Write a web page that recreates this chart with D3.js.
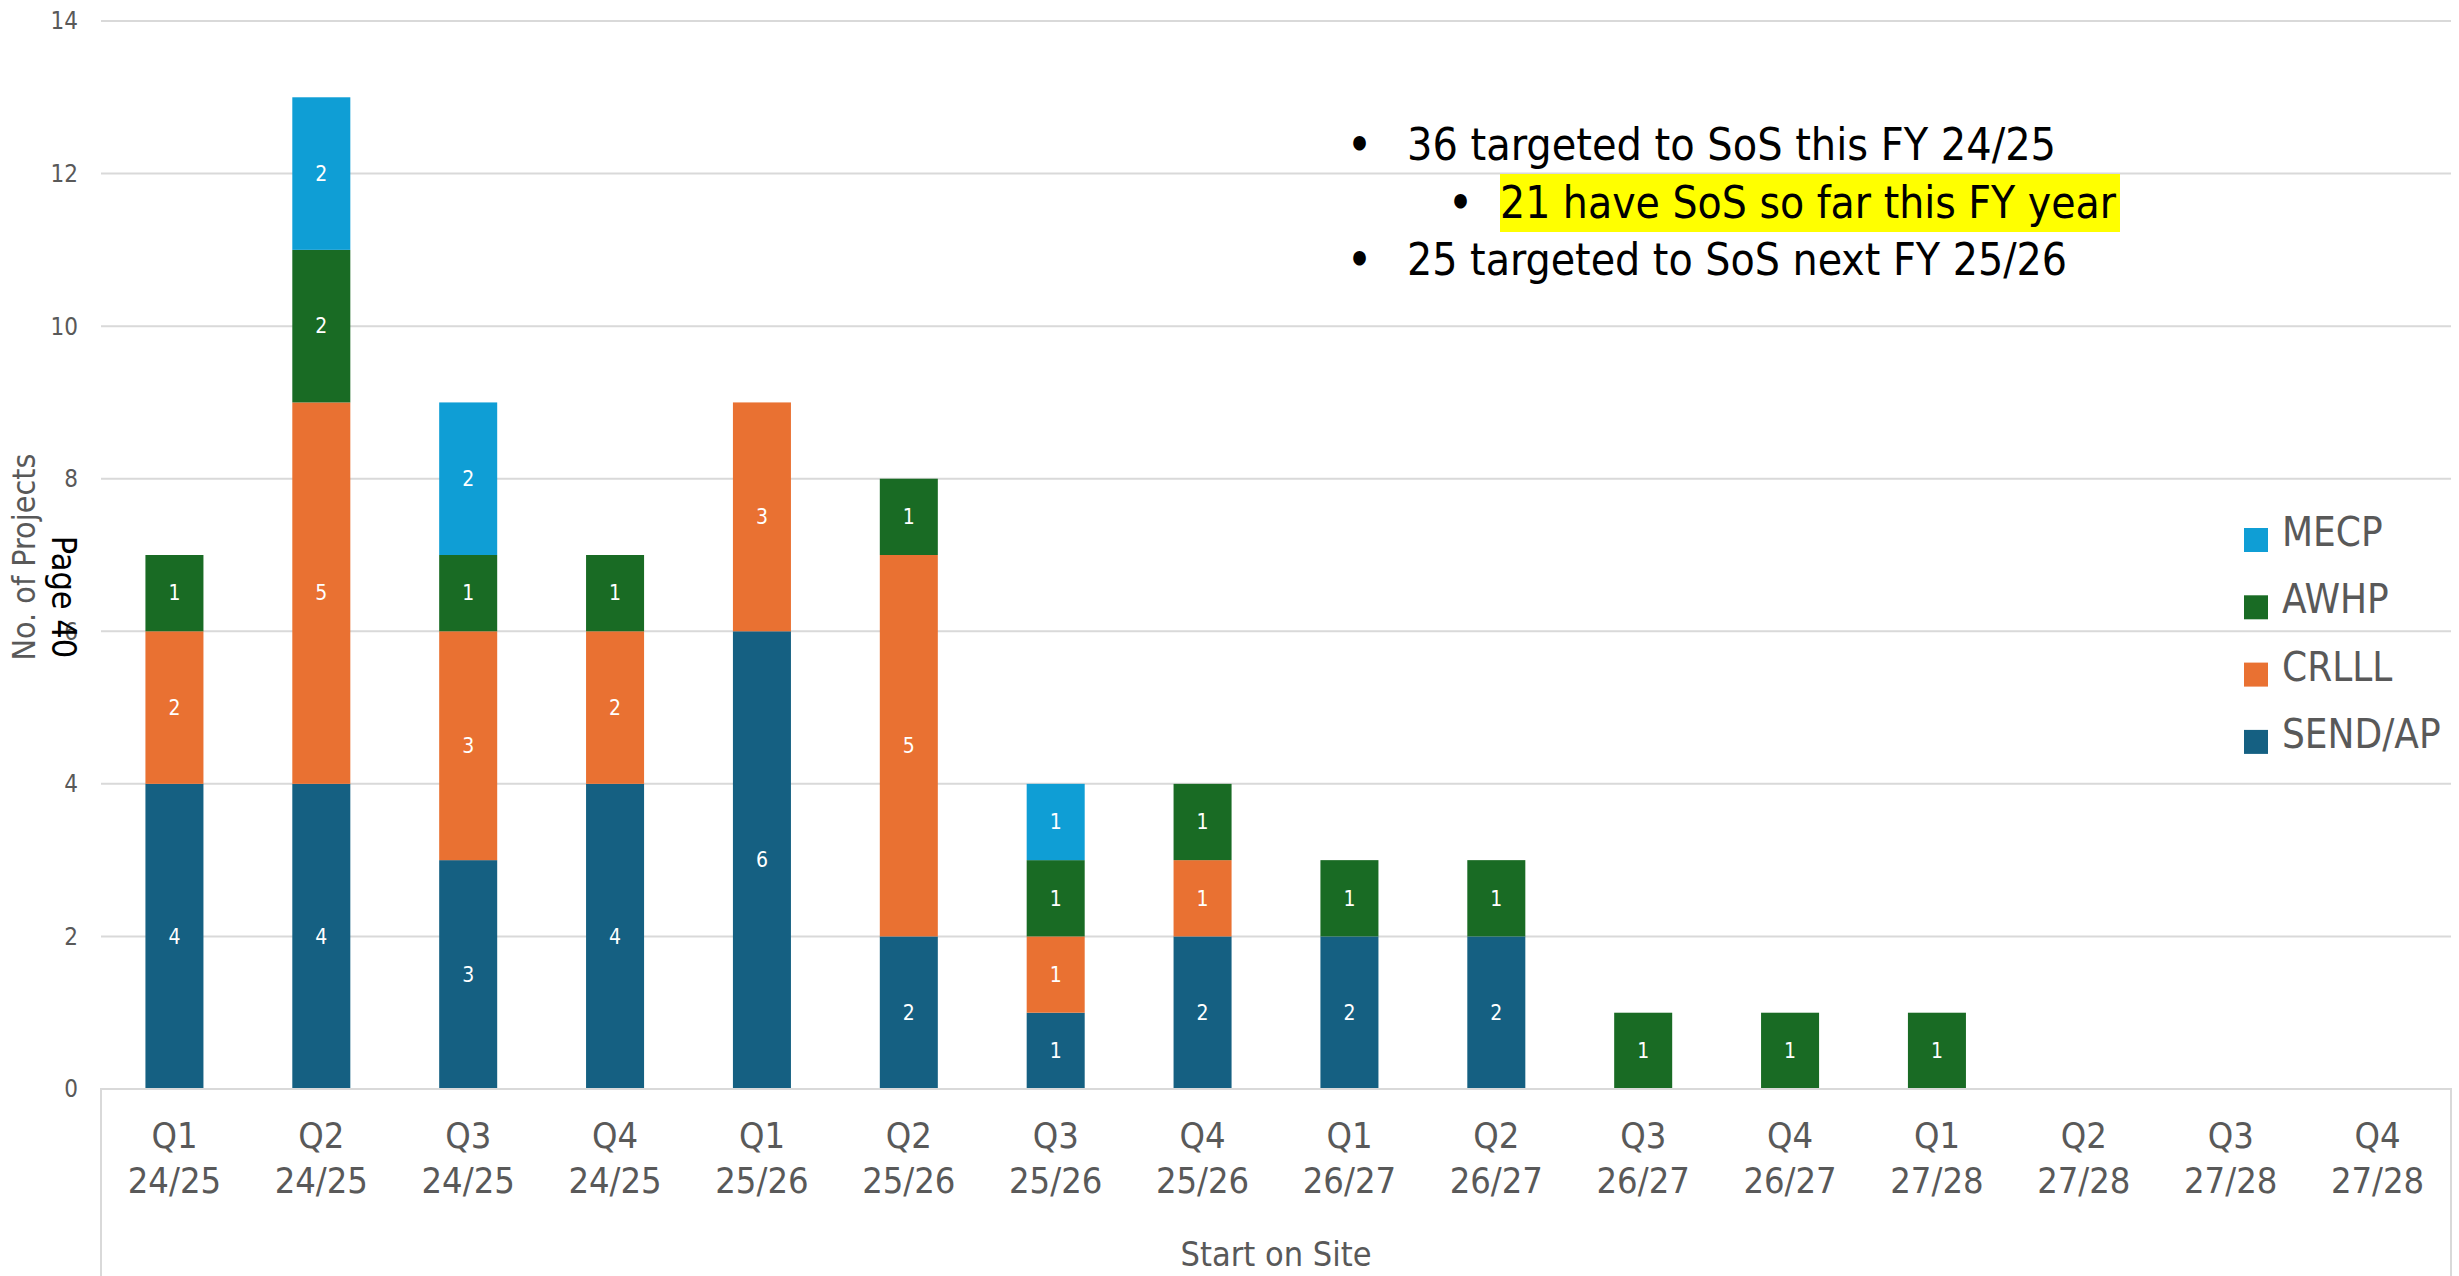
<!DOCTYPE html>
<html>
<head>
<meta charset="utf-8">
<script src="https://cdn.jsdelivr.net/npm/d3@7"></script>
<style>
  body { margin: 0; background: #fff; }
  svg { display: block; }
  text { font-family: "DejaVu Sans Condensed", "DejaVu Sans", sans-serif; }
</style>
</head>
<body>
<div class="chart"></div>
<script>
// quarters (two line labels)
const quarters = ["Q1", "Q2", "Q3", "Q4", "Q1", "Q2", "Q3", "Q4", "Q1", "Q2", "Q3", "Q4", "Q1", "Q2", "Q3", "Q4"]
const years = ["24/25", "24/25", "24/25", "24/25", "25/26", "25/26", "25/26", "25/26",
               "26/27", "26/27", "26/27", "26/27", "27/28", "27/28", "27/28", "27/28"]

const sendAP = [4, 4, 3, 4, 6, 2, 1, 2, 2, 2, 0, 0, 0, 0, 0, 0]
const crlll  = [2, 5, 3, 2, 3, 5, 1, 1, 0, 0, 0, 0, 0, 0, 0, 0]
const awhp   = [1, 2, 1, 1, 0, 1, 1, 1, 1, 1, 1, 1, 1, 0, 0, 0]
const mecp   = [0, 2, 2, 0, 0, 0, 1, 0, 0, 0, 0, 0, 0, 0, 0, 0]

const seriesNames = ["SEND/AP", "CRLLL", "AWHP", "MECP"]
const yTicks = [0, 2, 4, 6, 8, 10, 12, 14]

const notes = [
  "36 targeted to SoS this FY 24/25",
  "21 have SoS so far this FY year",
  "25 targeted to SoS next FY 25/26"
]

const width = 2459
const height = 1276
const mLeft = 101, mRight = 2451, mTop = 21, mBottom = 1089

const svg = d3.select(".chart").append("svg")
  .attr("width", width)
  .attr("height", height)

const categories = quarters.map((q, i) => q + " " + years[i])
const table = categories.map((c, i) => ({
  cat: c, "SEND/AP": sendAP[i], "CRLLL": crlll[i], "AWHP": awhp[i], "MECP": mecp[i]
}))

const colors = d3.scaleOrdinal()
  .domain(seriesNames)
  .range(["#156082", "#E97132", "#196B24", "#0F9ED5"])

const x = d3.scaleBand()
  .domain(categories)
  .range([mLeft, mRight])
  .paddingInner(0.605)
  .paddingOuter(0.3025)

const y = d3.scaleLinear()
  .domain([0, 14])
  .range([mBottom, mTop])

// gridlines
svg.append("g")
  .selectAll("line")
  .data(yTicks.filter(d => d > 0))
  .join("line")
  .attr("x1", mLeft).attr("x2", mRight)
  .attr("y1", d => y(d)).attr("y2", d => y(d))
  .attr("stroke", "#d9d9d9")
  .attr("stroke-width", 2)

// y tick labels
svg.append("g")
  .selectAll("text")
  .data(yTicks)
  .join("text")
  .attr("x", 78)
  .attr("y", d => y(d))
  .attr("dy", "0.35em")
  .attr("text-anchor", "end")
  .attr("fill", "#595959")
  .attr("font-size", 24)
  .text(d => d)

// note text with highlight
const noteG = svg.append("g")
const bulletX = [1348, 1449, 1348]
const textX = [1407, 1500, 1407]
const lineY = [144, 202, 259]
const noteW = [649, 616, 660]

noteG.append("rect")
  .attr("x", 1500).attr("y", 174)
  .attr("width", 620).attr("height", 58)
  .attr("fill", "#FFFF00")

notes.forEach((t, i) => {
  noteG.append("text")
    .attr("x", bulletX[i]).attr("y", lineY[i])
    .attr("dy", "0.35em")
    .attr("font-size", 40)
    .attr("font-family", "DejaVu Sans")
    .attr("font-weight", "bold")
    .text("•")
  noteG.append("text")
    .attr("x", textX[i]).attr("y", lineY[i])
    .attr("dy", "0.36em")
    .attr("font-size", 44)
    .attr("fill", "#000")
    .attr("textLength", noteW[i])
    .attr("lengthAdjust", "spacingAndGlyphs")
    .text(t)
})

// stacked bars
const stacked = d3.stack().keys(seriesNames)(table)

const layers = svg.append("g")
  .selectAll("g")
  .data(stacked)
  .join("g")
  .attr("fill", d => colors(d.key))

layers.selectAll("rect")
  .data(d => d.filter(s => s[1] - s[0] > 0))
  .join("rect")
  .attr("x", d => x(d.data.cat))
  .attr("y", d => y(d[1]))
  .attr("width", x.bandwidth())
  .attr("height", d => y(d[0]) - y(d[1]))

layers.selectAll("text")
  .data(d => d.filter(s => s[1] - s[0] > 0))
  .join("text")
  .attr("x", d => x(d.data.cat) + x.bandwidth() / 2)
  .attr("y", d => y((d[0] + d[1]) / 2))
  .attr("dy", "0.35em")
  .attr("text-anchor", "middle")
  .attr("fill", "#fff")
  .attr("font-size", 21)
  .text(d => d[1] - d[0])

// category axis frame
svg.append("path")
  .attr("d", `M${mLeft},${height} V${mBottom} H${mRight} V${height}`)
  .attr("fill", "none")
  .attr("stroke", "#d9d9d9")
  .attr("stroke-width", 2)

// x labels
const xl = svg.append("g")
  .selectAll("text")
  .data(categories)
  .join("text")
  .attr("text-anchor", "middle")
  .attr("fill", "#595959")
  .attr("font-size", 36)

xl.append("tspan")
  .attr("x", d => x(d) + x.bandwidth() / 2)
  .attr("y", 1148)
  .text((d, i) => quarters[i])
xl.append("tspan")
  .attr("x", d => x(d) + x.bandwidth() / 2)
  .attr("y", 1193)
  .text((d, i) => years[i])

// axis titles
svg.append("text")
  .attr("x", (mLeft + mRight) / 2)
  .attr("y", 1266)
  .attr("text-anchor", "middle")
  .attr("fill", "#595959")
  .attr("font-size", 34)
  .text("Start on Site")

svg.append("text")
  .attr("transform", "translate(35,557) rotate(-90)")
  .attr("text-anchor", "middle")
  .attr("fill", "#595959")
  .attr("font-size", 32)
  .text("No. of Projects")

svg.append("text")
  .attr("transform", "translate(52,597) rotate(90)")
  .attr("text-anchor", "middle")
  .attr("fill", "#000")
  .attr("font-size", 34)
  .attr("font-family", "Liberation Sans Narrow, Liberation Sans, sans-serif")
  .text("Page 40")

// legend
const legendNames = ["MECP", "AWHP", "CRLLL", "SEND/AP"]
const legend = svg.append("g")
  .selectAll("g")
  .data(legendNames)
  .join("g")
  .attr("transform", (d, i) => `translate(2244,${528 + i * 67.3})`)

legend.append("rect")
  .attr("width", 24).attr("height", 24)
  .attr("fill", d => colors(d))

legend.append("text")
  .attr("x", 38)
  .attr("y", 18)
  .attr("fill", "#595959")
  .attr("font-size", 40)
  .text(d => d)
</script>
</body>
</html>
